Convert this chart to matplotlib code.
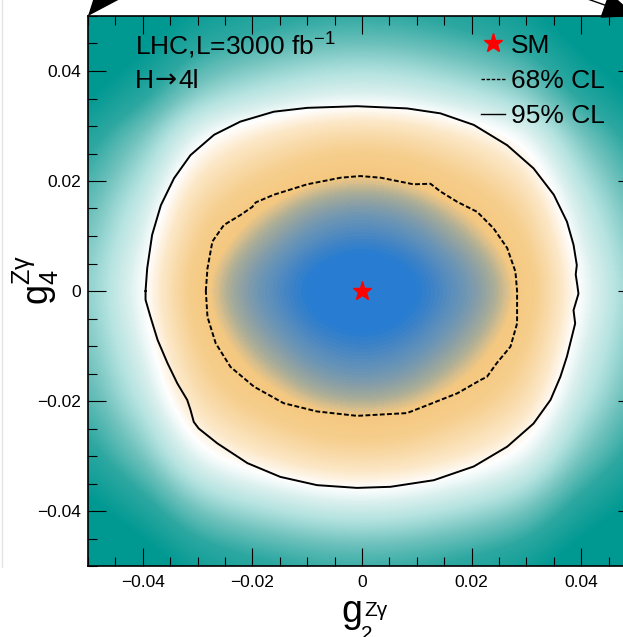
import numpy as np
import matplotlib.pyplot as plt
from matplotlib.colors import LinearSegmentedColormap
from matplotlib.lines import Line2D
from matplotlib.ticker import MultipleLocator

plt.rcParams['font.family'] = ['Liberation Sans', 'DejaVu Sans']
plt.rcParams['mathtext.fontset'] = 'custom'
plt.rcParams['mathtext.rm'] = 'Liberation Sans'
plt.rcParams['mathtext.it'] = 'Liberation Sans'
plt.rcParams['mathtext.sf'] = 'Liberation Sans'

# scan grid (g2, g4) and -2 delta lnL profiles along the two axes
grid = np.linspace(-0.05, 0.05, 21)
q_g2 = [9.6, 7.7, 6.2, 4.2, 2.6, 1.8, 1.2, 0.75, 0.33, 0.09, 0.0,
        0.09, 0.33, 0.75, 1.2, 1.8, 2.6, 4.2, 6.2, 7.7, 9.6]
q_g4 = [12.2, 9.8, 7.6, 5.6, 3.9, 2.75, 1.75, 1.1, 0.6, 0.2, 0.0,
        0.2, 0.7, 1.25, 2.1, 3.1, 4.4, 6.6, 8.4, 10.3, 12.5]

# 68% CL contour
cl68_x = [-0.0285, -0.0282, -0.0273, -0.0252, -0.0222, -0.0200, -0.0194, -0.0161,
          -0.0100, -0.0039, -0.0003, 0.0034, 0.0094, 0.0125, 0.0143, 0.0174, 0.0210,
          0.0240, 0.0265, 0.0280, 0.0283, 0.0283, 0.0271, 0.0246, 0.0228, 0.0216,
          0.0174, 0.0113, 0.0082, -0.0009, -0.0082, -0.0143, -0.0197, -0.0240,
          -0.0267, -0.0282, -0.0285]
cl68_y = [0.0, 0.0041, 0.0090, 0.0120, 0.0138, 0.0153, 0.0161, 0.0175,
          0.0194, 0.0206, 0.0209, 0.0206, 0.0194, 0.0195, 0.0181, 0.0162, 0.0144,
          0.0114, 0.0078, 0.0035, 0.0, -0.0059, -0.0101, -0.0131, -0.0156, -0.0162,
          -0.0186, -0.0210, -0.0222, -0.0227, -0.0219, -0.0204, -0.0174, -0.0138,
          -0.0095, -0.0047, 0.0]

# 95% CL contour
cl95_x = [-0.0395, -0.0392, -0.0383, -0.0367, -0.0343, -0.0313, -0.0270, -0.0222,
          -0.0161, -0.0100, -0.0009, 0.0082, 0.0143, 0.0204, 0.0265, 0.0313, 0.0350,
          0.0374, 0.0386, 0.0392, 0.0390, 0.0393, 0.0395, 0.0386, 0.0389, 0.0380,
          0.0374, 0.0362, 0.0344, 0.0313, 0.0265, 0.0204, 0.0131, 0.0052, -0.0009,
          -0.0082, -0.0149, -0.0209, -0.0264, -0.0298, -0.0307, -0.0313, -0.0319,
          -0.0337, -0.0355, -0.0373, -0.0386, -0.0395, -0.0395]
cl95_y = [0.0, 0.0041, 0.0102, 0.0156, 0.0205, 0.0247, 0.0284, 0.0308,
          0.0326, 0.0333, 0.0336, 0.0332, 0.0323, 0.0302, 0.0265, 0.0223, 0.0175,
          0.0126, 0.0084, 0.0047, 0.0030, 0.0010, -0.0005, -0.0035, -0.0059, -0.0095,
          -0.0119, -0.0156, -0.0198, -0.0241, -0.0283, -0.0319, -0.0344, -0.0356, -0.0358,
          -0.0353, -0.0338, -0.0313, -0.0277, -0.0250, -0.0238, -0.0216, -0.0198,
          -0.0168, -0.0131, -0.0089, -0.0047, -0.0016, 0.0]

ticks = [-0.04, -0.02, 0.0, 0.02, 0.04]
tick_labels = ['\u22120.04', '\u22120.02', '0', '0.02', '0.04']

# colour palette: blue (best fit) -> orange -> white -> teal
qmax = 16.0
nodes = [(0.0, (40, 125, 210)), (0.4, (40, 125, 210)), (0.6, (60, 130, 200)),
         (0.85, (85, 140, 190)), (1.15, (110, 150, 180)), (1.45, (140, 160, 165)),
         (1.8, (175, 175, 150)), (2.07, (215, 190, 140)), (2.3, (245, 200, 128)),
         (3.2, (246, 206, 140)), (4.9, (252, 232, 200)), (6.0, (255, 255, 255)),
         (7.0, (218, 240, 238)), (8.4, (178, 226, 223)), (10.3, (112, 194, 189)),
         (12.5, (45, 168, 161)), (16.0, (0, 153, 146))]
cmap = LinearSegmentedColormap.from_list(
    'lhc', [(q / qmax, tuple(c / 255 for c in rgb)) for q, rgb in nodes])

field = np.add.outer(np.array(q_g4), np.array(q_g2))

W, H = 623, 637
fig = plt.figure(figsize=(W / 100, H / 100), dpi=100)
ax = fig.add_axes([88 / W, 1 - 566 / H, 548 / W, 550 / H])

step = grid[1] - grid[0]
ax.imshow(field, origin='lower', cmap=cmap, vmin=0, vmax=qmax,
          extent=(grid[0] - step / 2, grid[-1] + step / 2,
                  grid[0] - step / 2, grid[-1] + step / 2),
          interpolation='bicubic', interpolation_stage='data', aspect='auto')

ax.plot(cl68_x, cl68_y, color='black', lw=1.4, ls=(0, (2.5, 1.2)))
ax.plot(cl95_x, cl95_y, color='black', lw=1.4)
ax.plot([0], [0], marker='*', color='red', ms=14, ls='none')

ax.set_xlim(-0.05, 0.05)
ax.set_ylim(-0.05, 0.05)
ax.set_xticks(ticks)
ax.set_xticklabels(tick_labels)
ax.set_yticks(ticks)
ax.set_yticklabels(tick_labels)
ax.xaxis.set_minor_locator(MultipleLocator(0.005))
ax.yaxis.set_minor_locator(MultipleLocator(0.005))
ax.tick_params(which='both', direction='in', top=True, right=True,
               labelsize=12.5, width=0.8, colors='black')
ax.tick_params(which='major', length=12.7)
ax.tick_params(which='minor', length=6.7)
ax.tick_params(axis='y', pad=5)
ax.tick_params(axis='x', pad=6.5)
for sp in ax.spines.values():
    sp.set_linewidth(1.2)

# axis titles
ax.set_ylabel(r'g$_{4}^{Z\gamma}$', fontsize=26)
ax.yaxis.set_label_coords(-0.05, 0.52)
fig.text(352 / W, 1 - 622 / H, 'g', fontsize=27, ha='center', va='baseline')
fig.text(364 / W, 1 - 616 / H, 'Z\u03b3', fontsize=15, ha='left', va='baseline')
fig.text(361 / W, 1 - 640 / H, '2', fontsize=15, ha='left', va='baseline')

ax.text(0.0858, 0.929, r'LHC,L=3000 fb$^{-1}$', transform=ax.transAxes,
        fontsize=19, va='baseline')
ax.text(135 / W, 1 - 88 / H, 'H', transform=fig.transFigure,
        fontsize=19, va='baseline')
ax.text(154 / W, 1 - 88 / H, '\u2192', transform=fig.transFigure,
        fontsize=19, va='baseline', family='DejaVu Sans')
ax.text(178 / W, 1 - 88 / H, '4l', transform=fig.transFigure,
        fontsize=19, va='baseline')

handles = [Line2D([], [], marker='*', color='red', ms=14, ls='none'),
           Line2D([], [], color='black', lw=1.0, ls=(0, (2.5, 1.2))),
           Line2D([], [], color='black', lw=1.0)]
ax.legend(handles, ['SM', '68% CL', '95% CL'], loc='upper left',
          bbox_to_anchor=(0.717, 0.968), frameon=False, fontsize=19,
          handlelength=0.9, handletextpad=0.25, labelspacing=0.43,
          borderpad=0, borderaxespad=0)

# arrows pointing at the upper frame corners
arrow = dict(arrowstyle='-|>,head_length=1.1,head_width=0.45', mutation_scale=20,
             color='black', lw=1.0, shrinkA=0, shrinkB=0)
ax.annotate('', xy=(0, 1), xycoords='axes fraction', xytext=(0.13, 1.155),
            textcoords='axes fraction', arrowprops=arrow, annotation_clip=False)
ax.annotate('', xy=(1, 1), xycoords='axes fraction', xytext=(0.80, 1.07),
            textcoords='axes fraction', arrowprops=arrow, annotation_clip=False)

fig.add_artist(Line2D([1.5 / W, 1.5 / W], [1 - 567 / H, 1],
                      transform=fig.transFigure, color='#e4e4e4', lw=1))

fig.savefig('out.png', dpi=100)
